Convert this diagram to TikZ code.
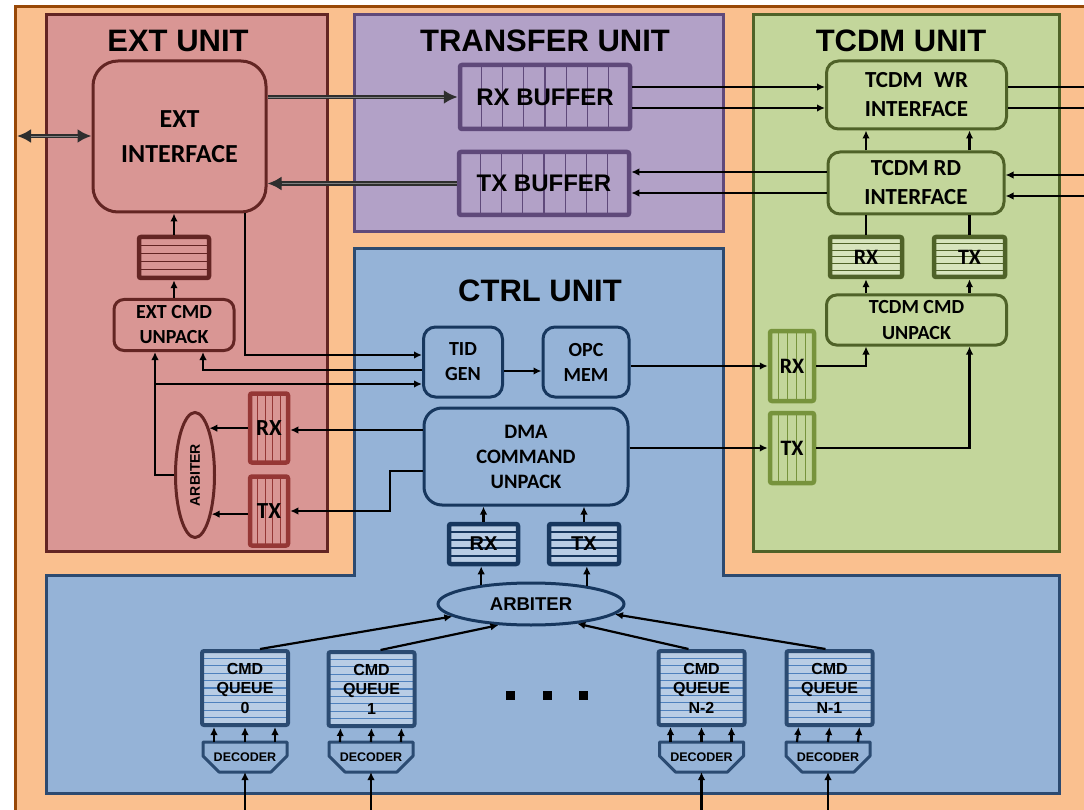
\documentclass[tikz,border=0pt]{standalone}
\usepackage{fontspec}
\usepackage{graphicx}
\setmainfont{Carlito}
\newfontfamily\arialfont{Liberation Sans}
\usetikzlibrary{calc,arrows.meta,shapes.geometric}

\definecolor{pageBg}{HTML}{FAC08F}
\definecolor{pageLine}{HTML}{984807}
\definecolor{extFill}{HTML}{D99694}
\definecolor{extLine}{HTML}{632523}
\definecolor{extFifo}{HTML}{953735}
\definecolor{xferFill}{HTML}{B2A1C7}
\definecolor{xferLine}{HTML}{5F497A}
\definecolor{tcdmFill}{HTML}{C3D69B}
\definecolor{tcdmLight}{HTML}{D7E4BD}
\definecolor{tcdmLine}{HTML}{4F6228}
\definecolor{tcdmFifo}{HTML}{77933C}
\definecolor{ctrlFill}{HTML}{95B3D7}
\definecolor{ctrlLine}{HTML}{2C4A70}
\definecolor{boxLine}{HTML}{17375E}
\definecolor{queueFill}{HTML}{B9CDE5}
\definecolor{queueStripe}{HTML}{4F81BD}
\definecolor{queueLine}{HTML}{2B4B72}

\tikzset{
  hstripes/.style n args={3}{path picture={
    \foreach \k in {1,...,#1}{
      \pgfmathsetmacro\fr{\k/(#1+1)}
      \draw[draw=#2, line width=#3]
        ($(path picture bounding box.north west)!\fr!(path picture bounding box.south west)$) --
        ($(path picture bounding box.north east)!\fr!(path picture bounding box.south east)$);
    }}},
  vstripes/.style n args={3}{path picture={
    \foreach \k in {1,...,#1}{
      \pgfmathsetmacro\fr{\k/(#1+1)}
      \draw[draw=#2, line width=#3]
        ($(path picture bounding box.north west)!\fr!(path picture bounding box.north east)$) --
        ($(path picture bounding box.south west)!\fr!(path picture bounding box.south east)$);
    }}},
}

\begin{document}
\begin{tikzpicture}[x=1pt,y=-1pt,
  every node/.style={inner sep=0},
  title/.style={font=\arialfont\bfseries\fontsize{31}{36}\selectfont},
  block/.style={draw, line width=3, rounded corners=#1, align=center},
  block/.default=12,
  fifo/.style={draw, line width=4.5, rounded corners=2, align=center},
  midfont/.style={font=\bfseries\fontsize{20}{25}\selectfont},
  queue/.style={fifo, draw=queueLine, line width=4, fill=queueFill,
    hstripes={9}{queueStripe}{1.2}, minimum width=86, minimum height=74,
    font=\arialfont\bfseries\fontsize{16}{19.5}\selectfont},
  decoder/.style={minimum width=84, minimum height=30, outer sep=0,
    font=\arialfont\bfseries\fontsize{12.5}{14}\selectfont},
  decline/.style={draw=queueLine, line width=3, line join=round},
  wire/.style={line width=2.2},
  arr/.style={line width=2.2, -{Latex[length=8,width=7.5]}},
  dblarr/.style={line width=4.6, draw=black!82, -{Latex[length=14,width=14]},
    postaction={draw=black!50, line width=0.9, -, shorten >=14}},
  dblarrs/.style={line width=4.6, draw=black!82, {Latex[length=14,width=14]}-{Latex[length=14,width=14]},
    postaction={draw=black!50, line width=0.9, -, shorten >=14, shorten <=14}},
]
\useasboundingbox (0,0) rectangle (1084,810);

% page background
\fill[pageBg] (14,5) rectangle (1084,810);
\draw[pageLine, line width=3] (15.5,810) -- (15.5,6.5) -- (1084,6.5);

% unit frames
\draw[line width=3, draw=extLine, fill=extFill] (46,15) rectangle (327,551);
\draw[line width=3, draw=xferLine, fill=xferFill] (354,15) rectangle (723,232);
\draw[line width=3, draw=tcdmLine, fill=tcdmFill] (753,15) rectangle (1059,551);
\draw[line width=3, draw=ctrlLine, fill=ctrlFill]
  (354,249) -- (723,249) -- (723,575) -- (1059,575) -- (1059,793)
  -- (46,793) -- (46,575) -- (354,575) -- cycle;

% unit titles
\node[title] (extTitle) at (178,41) {EXT UNIT};
\node[title] (xferTitle) at (545,41) {TRANSFER UNIT};
\node[title] (tcdmTitle) at (901,41) {TCDM UNIT};
\node[title] (ctrlTitle) at (540,291) {CTRL UNIT};

% ---------------- EXT unit
\node[block=25, draw=extLine, fill=extFill, minimum width=173, minimum height=151,
  font=\bfseries\fontsize{26}{35}\selectfont] (extif) at (179.5,136.5) {EXT\\INTERFACE};
\node[fifo, draw=extLine, fill=extFill, hstripes={4}{extLine}{1.2},
  minimum width=70, minimum height=41] (extfifo) at (174,257.5) {};
\node[block=10, draw=extLine, fill=extFill, minimum width=120, minimum height=51, midfont]
  (extcmd) at (174,325) {EXT CMD\\UNPACK};
\node[fifo, draw=extFifo, fill=extFill, vstripes={4}{extFifo}{1.2},
  minimum width=38, minimum height=69, font=\bfseries\fontsize{23}{26}\selectfont]
  (extrx) at (269,428) {RX};
\node[fifo, draw=extFifo, fill=extFill, vstripes={4}{extFifo}{1.2},
  minimum width=38, minimum height=69, font=\bfseries\fontsize{23}{26}\selectfont]
  (exttx) at (269,511) {TX};
\node[ellipse, draw=extLine, line width=3, fill=extFill, minimum width=39, minimum height=125,
  font=\arialfont\bfseries\fontsize{14}{16}\selectfont] (arbv) at (195,475) {\rotatebox{90}{ARBITER}};

% ---------------- TRANSFER unit
\node[fifo, draw=xferLine, fill=xferFill, vstripes={7}{xferLine}{1.2},
  minimum width=170, minimum height=64, font=\arialfont\bfseries\fontsize{24}{28}\selectfont]
  (rxbuf) at (545,97) {RX BUFFER};
\node[fifo, draw=xferLine, fill=xferFill, vstripes={7}{xferLine}{1.2},
  minimum width=170, minimum height=63, font=\arialfont\bfseries\fontsize{24}{28}\selectfont]
  (txbuf) at (544,183.5) {TX BUFFER};

% ---------------- TCDM unit
\node[block, draw=tcdmLine, fill=tcdmFill, minimum width=180, minimum height=68,
  font=\bfseries\fontsize{23}{29}\selectfont] (tcdmwr) at (916.5,95) {TCDM\enspace WR\\INTERFACE};
\node[block, draw=tcdmLine, fill=tcdmFill, minimum width=176, minimum height=62,
  font=\bfseries\fontsize{23}{29}\selectfont] (tcdmrd) at (916,183) {TCDM RD\\INTERFACE};
\node[fifo, draw=tcdmLine, fill=tcdmLight, hstripes={5}{tcdmLine}{1},
  minimum width=72, minimum height=40, font=\bfseries\fontsize{22}{26}\selectfont] (tcdmrx) at (866,257) {RX};
\node[fifo, draw=tcdmLine, fill=tcdmLight, hstripes={5}{tcdmLine}{1},
  minimum width=71, minimum height=40, font=\bfseries\fontsize{22}{26}\selectfont] (tcdmtx) at (969.5,257) {TX};
\node[block=10, draw=tcdmLine, fill=tcdmFill, minimum width=180, minimum height=50,
  font=\bfseries\fontsize{20}{26}\selectfont] (tcdmcmd) at (916.5,320) {TCDM CMD\\UNPACK};
\node[fifo, draw=tcdmFifo, fill=tcdmFill, vstripes={4}{tcdmFifo}{1.2},
  minimum width=44, minimum height=70, font=\bfseries\fontsize{22}{26}\selectfont] (tfrx) at (792,366) {RX};
\node[fifo, draw=tcdmFifo, fill=tcdmFill, vstripes={4}{tcdmFifo}{1.2},
  minimum width=44, minimum height=70, font=\bfseries\fontsize{22}{26}\selectfont] (tftx) at (792,448) {TX};

% ---------------- CTRL unit
\node[block, draw=boxLine, fill=ctrlFill, minimum width=79, minimum height=70, midfont]
  (tid) at (463,362) {TID\\GEN};
\node[block, draw=boxLine, fill=ctrlFill, minimum width=86, minimum height=70, midfont]
  (opc) at (586,362) {OPC\\MEM};
\node[block=18, draw=boxLine, fill=ctrlFill, minimum width=204, minimum height=97,
  font=\bfseries\fontsize{20.5}{25}\selectfont] (dma) at (526,456.5) {DMA\\COMMAND\\UNPACK};
\node[fifo, draw=boxLine, fill=queueFill, hstripes={4}{boxLine}{1.5},
  minimum width=69, minimum height=40, font=\arialfont\bfseries\fontsize{20}{24}\selectfont]
  (crx) at (483.5,544) {RX};
\node[fifo, draw=boxLine, fill=queueFill, hstripes={4}{boxLine}{1.5},
  minimum width=70, minimum height=40, font=\arialfont\bfseries\fontsize{20}{24}\selectfont]
  (ctx) at (584,544) {TX};
\node[ellipse, draw=boxLine, line width=3, fill=ctrlFill, minimum width=186, minimum height=42,
  font=\arialfont\bfseries\fontsize{18.5}{22}\selectfont] (arb) at (531,604) {ARBITER};

% command queues and their decoders
\node[queue] (q0) at (245,688) {CMD\\QUEUE\\0};
\node[queue] (q1) at (371.5,689) {CMD\\QUEUE\\1};
\node[queue] (qn2) at (701.5,688) {CMD\\QUEUE\\N-2};
\node[queue] (qn1) at (829.5,688) {CMD\\QUEUE\\N-1};

\foreach \d/\cx in {d0/245, d1/371, dn2/701.5, dn1/828}{
  \node[decoder] (\d) at (\cx,757) {DECODER};
  \draw[decline] (\d.north west) -- (\d.north east) -- ($(\d.north east)+(0,14)$)
    -- ($(\d.south east)+(-16,0)$) -- ($(\d.south west)+(16,0)$)
    -- ($(\d.north west)+(0,14)$) -- cycle;
}

% ellipsis between the queues
\foreach \dx in {506,542.5,578.5}
  \fill (\dx,690.5) rectangle +(9,9);

% ---------------- free ends at the page border
\coordinate (extport) at (17,136);
\coordinate (wrout1) at (1084,87);
\coordinate (wrout2) at (1084,108);
\coordinate (rdin1) at (1084,175);
\coordinate (rdin2) at (1084,196);
\coordinate (in0) at (245,812);
\coordinate (in1) at (371,812);
\coordinate (inn2) at (701.5,812);
\coordinate (inn1) at (828,812);
\coordinate (armjoin) at (155,384);

% ---------------- connectors
% external port and transfer buffers
\draw[dblarrs] (extport) -- (extif.west |- extport);
\draw[dblarr] (extif.east |- rxbuf.west) -- (rxbuf.west);
\draw[dblarr] (txbuf.west) -- (extif.east |- txbuf.west);

% transfer buffers and TCDM interfaces
\draw[arr] (rxbuf.east |- 0,87) -- (tcdmwr.west |- 0,87);
\draw[arr] (rxbuf.east |- 0,108) -- (tcdmwr.west |- 0,108);
\draw[arr] (tcdmrd.west |- 0,172) -- (txbuf.east |- 0,172);
\draw[arr] (tcdmrd.west |- 0,193) -- (txbuf.east |- 0,193);
\draw[wire] (tcdmwr.east |- wrout1) -- (wrout1);
\draw[wire] (tcdmwr.east |- wrout2) -- (wrout2);
\draw[arr] (rdin1) -- (tcdmrd.east |- rdin1);
\draw[arr] (rdin2) -- (tcdmrd.east |- rdin2);
\draw[arr] (tcdmrd.north -| tcdmrx.north) -- (tcdmwr.south -| tcdmrx.north);
\draw[arr] (tcdmrd.north -| tcdmtx.north) -- (tcdmwr.south -| tcdmtx.north);
\draw[wire] (tcdmrd.south -| tcdmrx.north) -- (tcdmrx.north);
\draw[wire] (tcdmrd.south -| tcdmtx.north) -- (tcdmtx.north);
\draw[arr] (tcdmcmd.north -| tcdmrx.south) -- (tcdmrx.south);
\draw[arr] (tcdmcmd.north -| tcdmtx.south) -- (tcdmtx.south);
\draw[arr] (tfrx.east) -| (tcdmrx.south |- tcdmcmd.south);
\draw[arr] (tftx.east) -| (tcdmtx.south |- tcdmcmd.south);

% control unit to TCDM unit
\draw[arr] (opc.east |- tfrx.west) -- (tfrx.west);
\draw[arr] (dma.east |- tftx.west) -- (tftx.west);
\draw[arr] (tid.east |- 0,371) -- (opc.west |- 0,371);

% EXT unit internals
\draw[arr] (extcmd.north) -- (extfifo.south);
\draw[arr] (extfifo.north) -- (extif.south -| extfifo.north);
\draw[arr] (extif.south -| 245,0) |- (tid.west |- 0,355);
\draw[arr] (tid.west |- 0,370) -| (extcmd.south -| 203,0);
\draw[arr] (arbv.west) -| (extcmd.south -| armjoin);
\draw[arr] (armjoin) -- (tid.west |- armjoin);
\draw[arr] (extrx.west |- arbv.73) -- (arbv.73);
\draw[arr] (exttx.west |- arbv.-67) -- (arbv.-67);
\draw[arr] (dma.west |- 0,430) -- (extrx.east |- 0,430);
\draw[arr] (dma.west |- 0,471) -- (390,471) -- (390,511) -- (exttx.east |- 0,511);

% command path
\draw[arr] (crx.north) -- (dma.south -| crx.north);
\draw[arr] (ctx.north) -- (dma.south -| ctx.north);
\draw[arr] (arb.159) -- (arb.159 |- crx.south);
\draw[arr] (arb.18) -- (arb.18 |- ctx.south);
\draw[arr] ($(q0.north)+(15,0)$) -- (arb.189);
\draw[arr] ($(q1.north)+(9,0)$) -- (arb.213);
\draw[arr] ($(qn2.north)+(-13,0)$) -- (arb.337);
\draw[arr] ($(qn1.north)+(-4,0)$) -- (arb.353);

\foreach \d/\q in {d0/q0, d1/q1, dn2/qn2, dn1/qn1}{
  \draw[arr] ($(\d.north)+(-31,0)$) -- ($(\q.south)+(-31,0)$);
  \draw[arr] (\d.north) -- (\q.south);
  \draw[arr] ($(\d.north)+(30,0)$) -- ($(\q.south)+(30,0)$);
}
\draw[arr] (in0) -- (d0.south);
\draw[arr] (in1) -- (d1.south);
\draw[arr] (inn2) -- (dn2.south);
\draw[arr] (inn1) -- (dn1.south);
\end{tikzpicture}
\end{document}
